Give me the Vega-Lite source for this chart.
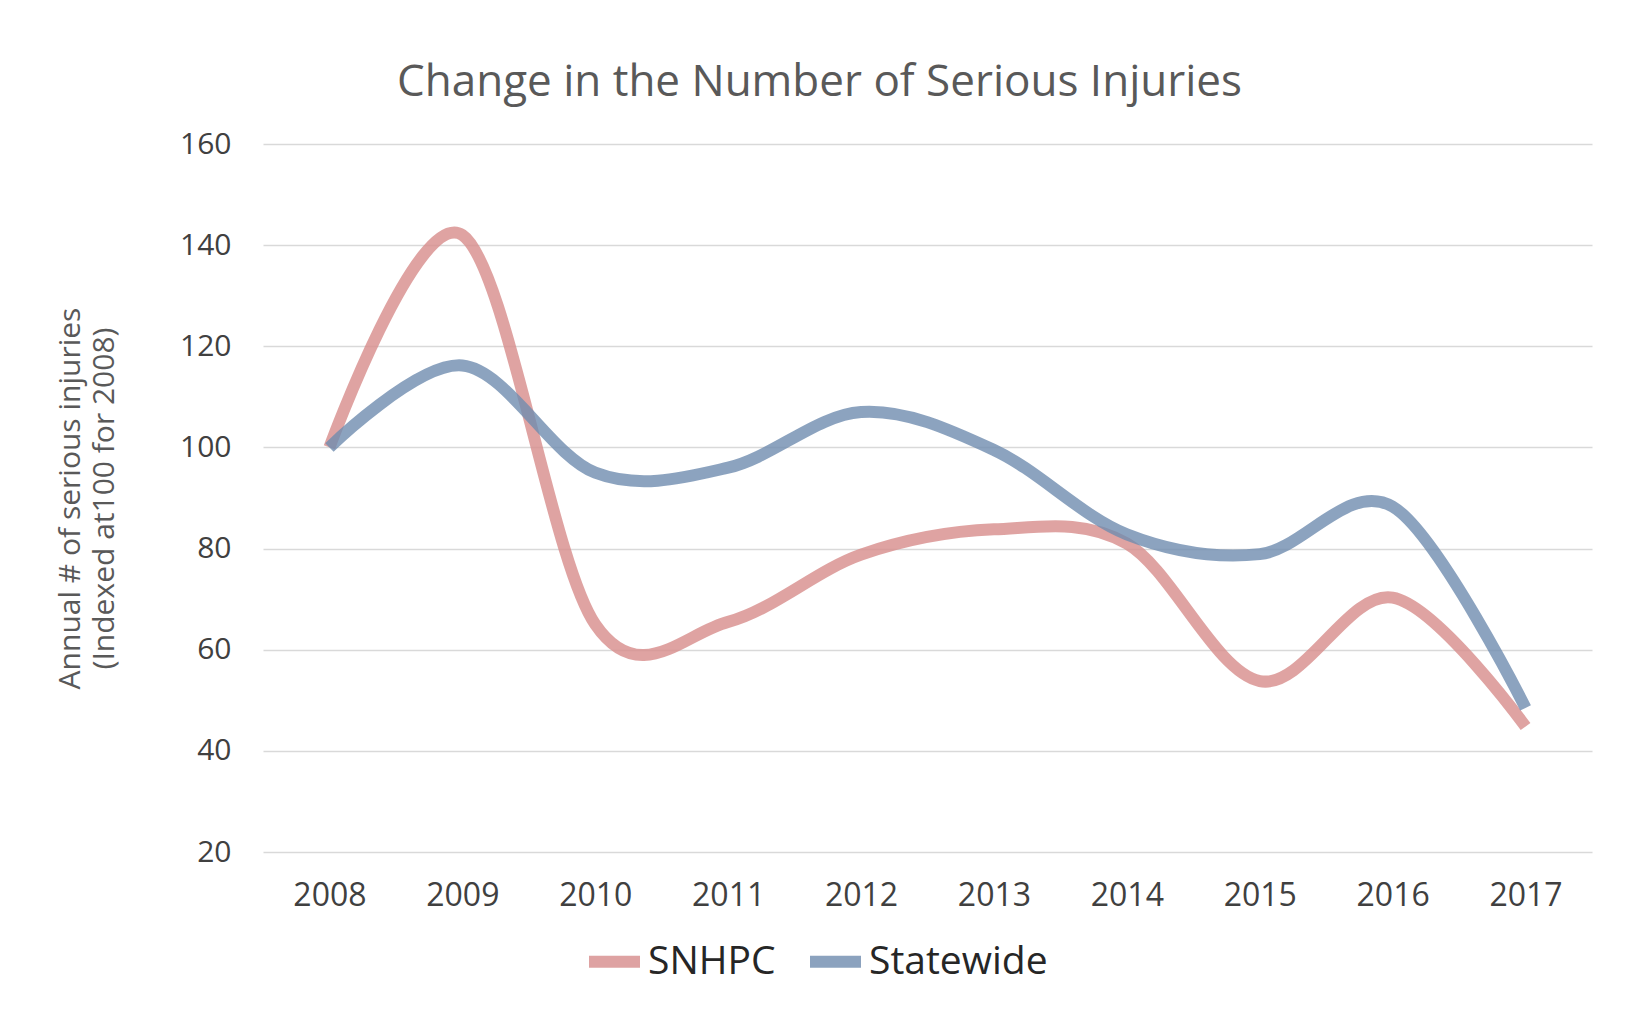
{
  "$schema": "https://vega.github.io/schema/vega-lite/v6.json",
  "width": 1329,
  "height": 708,
  "autosize": {"type": "none"},
  "padding": {"left": 263, "top": 144, "right": 56, "bottom": 176},
  "background": "white",
  "title": {
    "text": "Change in the Number of Serious Injuries",
    "font": "Open Sans",
    "fontSize": 44,
    "fontWeight": "normal",
    "color": "#595959",
    "anchor": "middle",
    "dx": -108,
    "offset": 24
  },
  "data": {
    "values": [
      {"year": "2008", "series": "SNHPC", "value": 100},
      {"year": "2009", "series": "SNHPC", "value": 142},
      {"year": "2010", "series": "SNHPC", "value": 65},
      {"year": "2011", "series": "SNHPC", "value": 65.5},
      {"year": "2012", "series": "SNHPC", "value": 78.8},
      {"year": "2013", "series": "SNHPC", "value": 83.8},
      {"year": "2014", "series": "SNHPC", "value": 81},
      {"year": "2015", "series": "SNHPC", "value": 53.8},
      {"year": "2016", "series": "SNHPC", "value": 70.3},
      {"year": "2017", "series": "SNHPC", "value": 44.8},
      {"year": "2008", "series": "Statewide", "value": 100},
      {"year": "2009", "series": "Statewide", "value": 116.2},
      {"year": "2010", "series": "Statewide", "value": 95},
      {"year": "2011", "series": "Statewide", "value": 96},
      {"year": "2012", "series": "Statewide", "value": 107},
      {"year": "2013", "series": "Statewide", "value": 99.5},
      {"year": "2014", "series": "Statewide", "value": 82.8},
      {"year": "2015", "series": "Statewide", "value": 78.9},
      {"year": "2016", "series": "Statewide", "value": 88.3},
      {"year": "2017", "series": "Statewide", "value": 48.5}
    ]
  },
  "mark": {
    "type": "line",
    "interpolate": "cardinal",
    "strokeWidth": 12,
    "strokeCap": "butt",
    "strokeJoin": "round",
    "opacity": 0.8
  },
  "encoding": {
    "x": {
      "field": "year",
      "type": "ordinal",
      "scale": {"type": "point", "padding": 0.5},
      "axis": {
        "title": null,
        "labelAngle": 0,
        "ticks": false,
        "domain": false,
        "grid": false,
        "labelFont": "Open Sans",
        "labelFontSize": 32,
        "labelColor": "#404040",
        "labelPadding": 28
      }
    },
    "y": {
      "field": "value",
      "type": "quantitative",
      "scale": {"domain": [20, 160], "nice": false, "zero": false},
      "axis": {
        "values": [20, 40, 60, 80, 100, 120, 140, 160],
        "title": ["Annual # of serious injuries", "(Indexed at100 for 2008)"],
        "titleFont": "Open Sans",
        "titleFontSize": 30,
        "titleFontWeight": "normal",
        "titleColor": "#595959",
        "titlePadding": 60,
        "titleLineHeight": 34,
        "ticks": false,
        "domain": false,
        "grid": true,
        "gridColor": "#D9D9D9",
        "gridWidth": 1.5,
        "labelFont": "Open Sans",
        "labelFontSize": 30,
        "labelColor": "#404040",
        "labelPadding": 32
      }
    },
    "color": {
      "field": "series",
      "type": "nominal",
      "scale": {"domain": ["SNHPC", "Statewide"], "range": ["#D78C8B", "#6F8CAF"]},
      "legend": {
        "title": null,
        "orient": "none",
        "direction": "horizontal",
        "legendX": 320,
        "legendY": 786,
        "symbolType": "stroke",
        "symbolSize": 2600,
        "symbolStrokeWidth": 12,
        "symbolOpacity": 0.8,
        "labelFont": "Open Sans",
        "labelFontSize": 39,
        "labelColor": "#262626",
        "labelLimit": 400,
        "labelOffset": 2,
        "columnPadding": 10
      }
    }
  },
  "config": {"view": {"stroke": null}}
}
